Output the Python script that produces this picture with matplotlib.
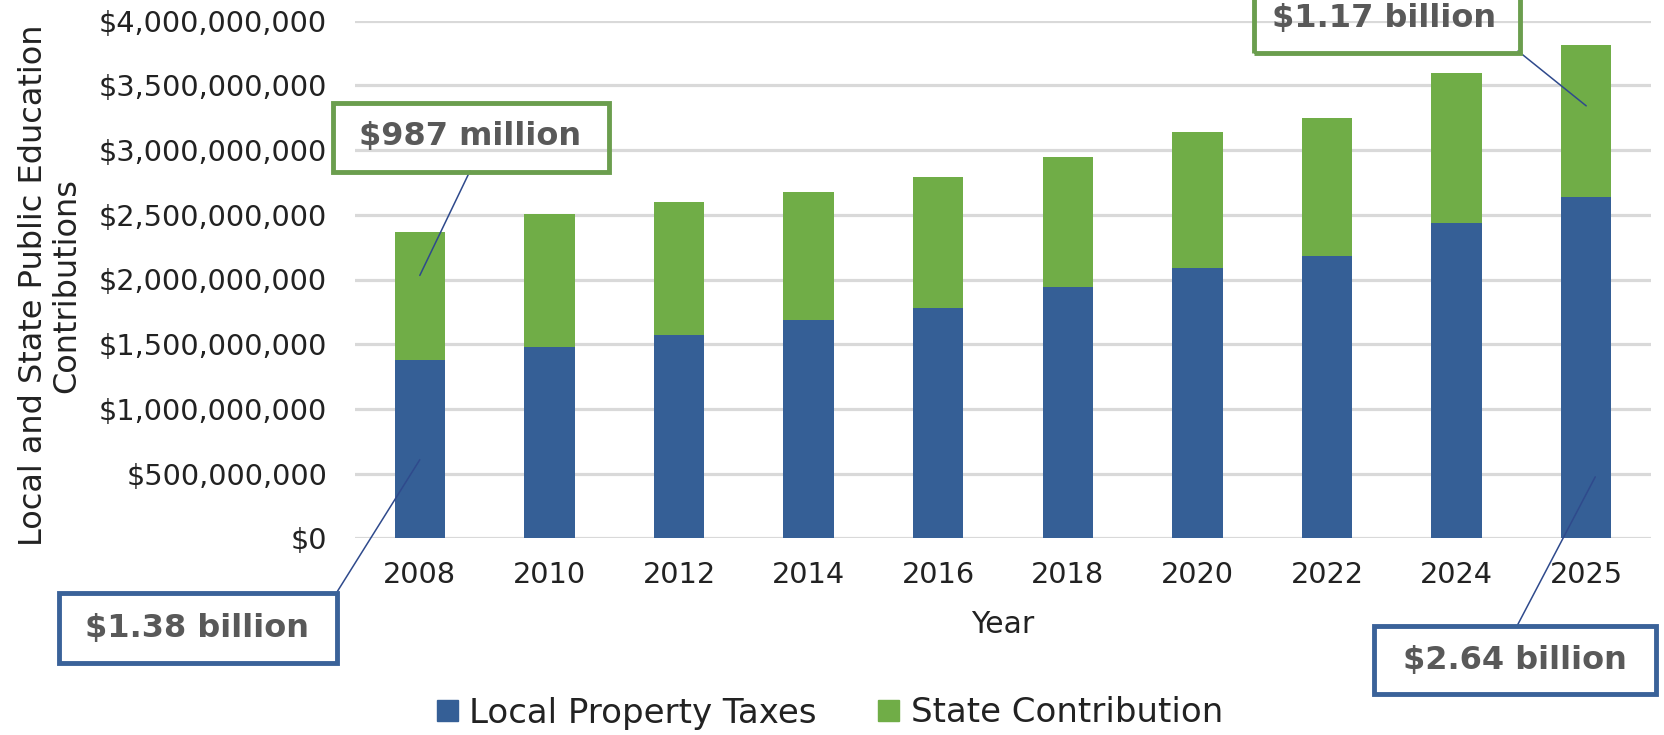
import matplotlib
matplotlib.use("Agg")
import matplotlib.pyplot as plt
from matplotlib.patches import Rectangle
from matplotlib.ticker import FuncFormatter, MultipleLocator

# Dados
anos = ["2008", "2010", "2012", "2014", "2016", "2018", "2020", "2022", "2024", "2025"]
impostos_locais = [1.38e9, 1.48e9, 1.57e9, 1.69e9, 1.78e9, 1.94e9, 2.09e9, 2.18e9, 2.44e9, 2.64e9]
contrib_estado = [0.987e9, 1.03e9, 1.03e9, 0.99e9, 1.01e9, 1.005e9, 1.05e9, 1.065e9, 1.155e9, 1.17e9]

# Callouts: texto, serie e indice da barra apontada
callout_textos = ["$987 million", "$1.17 billion", "$1.38 billion", "$2.64 billion"]
callout_series = ["state", "state", "local", "local"]
callout_indices = [0, 9, 0, 9]

AZUL = "#355f96"
VERDE = "#70ad47"
BORDA_VERDE = "#6b9e4e"
BORDA_AZUL = "#3a6299"
LINHA = "#2f4a8c"

W, H = 1665, 735
fig = plt.figure(figsize=(W / 100, H / 100), dpi=100, facecolor="white")
plt.rcParams["font.family"] = ["DejaVu Sans"]


def fx(px):
    return px / W


def fy(py):
    return 1 - py / H


# eixo em pixels: x 355..1651, y 20.7..538.3
ax = fig.add_axes([fx(355), fy(538.3), (1651 - 355) / W, (538.3 - 20.7) / H])

x = list(range(len(anos)))
ax.bar(x, impostos_locais, width=0.39, color=AZUL, label="Local Property Taxes", zorder=2)
ax.bar(x, contrib_estado, width=0.39, bottom=impostos_locais, color=VERDE,
       label="State Contribution", zorder=2)

ax.set_xlim(-0.5, len(anos) - 0.5)
ax.set_ylim(0, 4e9)
ax.yaxis.set_major_locator(MultipleLocator(5e8))
ax.yaxis.set_major_formatter(FuncFormatter(lambda v, p: f"${v:,.0f}"))
ax.set_xticks(x)
ax.set_xticklabels(anos)

ax.grid(axis="y", color="#d9d9d9", linewidth=2.3)
ax.set_axisbelow(True)
for s in ax.spines.values():
    s.set_visible(False)

ax.tick_params(axis="both", length=0, labelsize=20.7, labelcolor="#222222")
ax.tick_params(axis="x", pad=16)
ax.tick_params(axis="y", pad=20)

ax.set_xlabel("Year", fontsize=21.5, color="#222222")
ax.xaxis.set_label_coords(0.5, -0.139)
ax.set_ylabel("Local and State Public Education\nContributions", fontsize=23,
              color="#222222", linespacing=1.1)
ax.yaxis.set_label_coords(-0.2105, 0.489)

# Legenda
handles = [Rectangle((0, 0), 1, 1, color=AZUL), Rectangle((0, 0), 1, 1, color=VERDE)]
fig.legend(handles, ["Local Property Taxes", "State Contribution"], loc="center",
           bbox_to_anchor=(fx(830), fy(713)), ncol=2, frameon=False, fontsize=24.5,
           handlelength=0.6, handleheight=0.6, handletextpad=0.35, columnspacing=1.8,
           labelcolor="#222222")

# Caixas de destaque (posições em pixels da figura)
# x0, y0, x1, y1, centro do texto, inicio da linha, fracao do segmento, cor
caixas = [
    (333, 103, 609, 172, 470, 137, 470, 171, 0.66, BORDA_VERDE),
    (1254, -10, 1520, 53, 1384, 19, 1518, 51, 0.60, BORDA_VERDE),
    (59, 593, 337, 663, 197, 628, 337, 592, 0.44, BORDA_AZUL),
    (1374, 626, 1656, 694, 1515, 660, 1517, 626, 0.18, BORDA_AZUL),
]

for txt, serie, idx, cx in zip(callout_textos, callout_series, callout_indices, caixas):
    x0, y0, x1, y1, tx, ty, sx, sy, frac, cor = cx
    fig.add_artist(Rectangle((fx(x0), fy(y1)), (x1 - x0) / W, (y1 - y0) / H,
                             transform=fig.transFigure, fill=False, edgecolor=cor,
                             linewidth=3.5, zorder=5))
    fig.text(fx(tx), fy(ty), txt, ha="center", va="center", fontsize=23,
             fontweight="bold", color="#595959", zorder=6)
    if serie == "state":
        val = impostos_locais[idx] + frac * contrib_estado[idx]
        xi = idx
    else:
        val = frac * impostos_locais[idx]
        xi = idx + (0.07 if idx == 9 else 0)
    ax.annotate("", xy=(xi, val), xycoords="data", xytext=(fx(sx), fy(sy)),
                textcoords="figure fraction", annotation_clip=False,
                arrowprops=dict(arrowstyle="-", color=LINHA, lw=1.1,
                                shrinkA=0, shrinkB=0), zorder=4)

fig.savefig("out.png", dpi=100)
